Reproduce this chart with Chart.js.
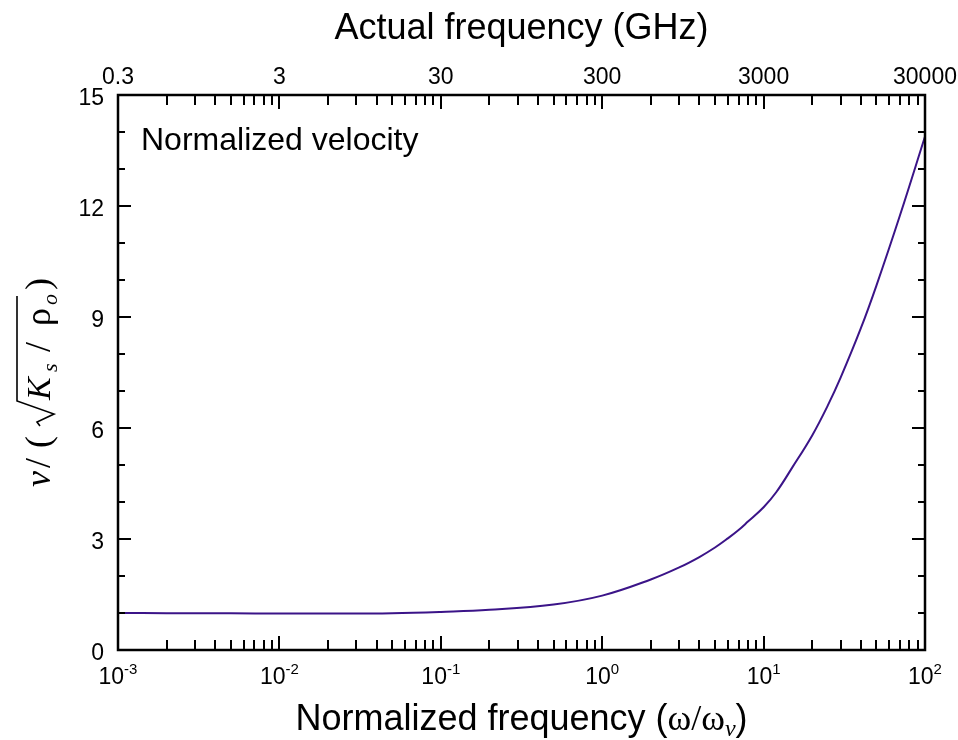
<!DOCTYPE html>
<html>
<head>
<meta charset="utf-8">
<script src="https://cdn.jsdelivr.net/npm/chart.js@4.4.0/dist/chart.umd.min.js"></script>
<style>
html, body { margin: 0; padding: 0; background: #ffffff; }
canvas { display: block; }
</style>
</head>
<body>
<canvas id="velocityChart" width="958" height="740"></canvas>
<script>
// ==================== DATOS ====================
const normFrequency = [0.001, 0.002, 0.005, 0.01, 0.02, 0.05, 0.1, 0.2, 0.5, 1, 2, 3, 4, 5, 6, 7, 8, 10, 12, 15, 20, 25, 30, 40, 50, 70, 100];
const normVelocity  = [1.00, 0.995, 0.99, 0.985, 0.985, 0.995, 1.03, 1.085, 1.23, 1.47, 1.906, 2.232, 2.513, 2.77, 3.016, 3.243, 3.47, 3.859, 4.27, 4.922, 5.80, 6.61, 7.36, 8.69, 9.85, 11.75, 13.88];

const bottomDecades = [-3, -2, -1, 0, 1, 2];
const topTickValues = [0.3, 3, 30, 300, 3000, 30000];
const topTickLabels = ['0.3', '3', '30', '300', '3000', '30000'];
const yTickValues = [0, 3, 6, 9, 12, 15];
const yTickLabels = ['0', '3', '6', '9', '12', '15'];

const LINE_COLOR = '#3b1488';
const SANS = 'Arial, "Liberation Sans", Helvetica, sans-serif';
const SERIF = '"Times New Roman", "Liberation Serif", Times, serif';

// ticks menores por década (2..9)
function logTicks(majors) {
    const list = [];
    majors.forEach((m, i) => {
        list.push({ value: m, major: true });
        if (i < majors.length - 1) {
            for (let k = 2; k <= 9; k++) list.push({ value: m * k, major: false });
        }
    });
    return list;
}

const bottomTicks = logTicks(bottomDecades.map(e => Math.pow(10, e)));
const topTicks = logTicks(topTickValues);

// ==================== DECORACIÓN DE EJES ====================
function drawYTitle(ctx) {
    ctx.save();
    ctx.translate(50, 488);
    ctx.rotate(-Math.PI / 2);
    ctx.textBaseline = 'alphabetic';
    ctx.textAlign = 'left';
    ctx.fillStyle = '#000';
    ctx.strokeStyle = '#000';

    ctx.font = 'italic 36px ' + SERIF;
    ctx.fillText('v', 1, 0);
    ctx.font = '36px ' + SERIF;
    ctx.fillText('/', 20, 0);
    ctx.fillText('(', 40, 0);

    // signo de raíz
    ctx.lineWidth = 1.6;
    ctx.beginPath();
    ctx.moveTo(62, -10);
    ctx.lineTo(66, -13);
    ctx.lineTo(74, 4);
    ctx.lineTo(87, -33);
    ctx.lineTo(192, -33);
    ctx.stroke();

    ctx.font = 'italic 34px ' + SERIF;
    ctx.fillText('K', 88, 0);
    ctx.font = 'italic 22px ' + SERIF;
    ctx.fillText('s', 116, 7);
    ctx.font = '36px ' + SERIF;
    ctx.fillText('/', 136, 0);
    ctx.fillText('\u03c1', 162, 0);
    ctx.font = 'italic 22px ' + SERIF;
    ctx.fillText('o', 183, 7);
    ctx.font = '36px ' + SERIF;
    ctx.fillText(')', 198, 0);
    ctx.restore();
}

function drawXTitle(ctx, cx, baseline) {
    const parts = [
        { text: 'Normalized frequency (', font: '36px ' + SANS, dy: 0 },
        { text: '\u03c9/\u03c9', font: '36px ' + SERIF, dy: 0 },
        { text: 'v', font: 'italic 24px ' + SERIF, dy: 6 },
        { text: ')', font: '36px ' + SANS, dy: 0 }
    ];
    let total = 0;
    parts.forEach(p => { ctx.font = p.font; p.w = ctx.measureText(p.text).width; total += p.w; });
    let x = cx - total / 2;
    ctx.textAlign = 'left';
    parts.forEach(p => { ctx.font = p.font; ctx.fillText(p.text, x, baseline + p.dy); x += p.w; });
}

const axisDecor = {
    id: 'axisDecor',
    afterDraw(chart) {
        const { ctx, chartArea: area, scales } = chart;
        const xs = scales.x, xt = scales.x2, ys = scales.y;
        ctx.save();
        ctx.strokeStyle = '#000';
        ctx.fillStyle = '#000';

        // ticks hacia dentro
        ctx.lineWidth = 2;
        ctx.beginPath();
        bottomTicks.forEach(t => {
            const px = Math.round(xs.getPixelForValue(t.value));
            const len = t.major ? 14 : 10;
            ctx.moveTo(px, area.bottom);
            ctx.lineTo(px, area.bottom - len);
        });
        topTicks.forEach(t => {
            const px = Math.round(xt.getPixelForValue(t.value));
            const len = t.major ? 14 : 10;
            ctx.moveTo(px, area.top);
            ctx.lineTo(px, area.top + len);
        });
        for (let v = 0; v <= 15; v++) {
            const py = Math.round(ys.getPixelForValue(v));
            const major = v % 3 === 0;
            ctx.moveTo(area.left, py);
            ctx.lineTo(area.left + (major ? 13 : 7), py);
            ctx.moveTo(area.right, py);
            ctx.lineTo(area.right - (major ? 13 : 7), py);
        }
        ctx.stroke();

        // marco
        ctx.lineWidth = 2.5;
        ctx.strokeRect(area.left, area.top, area.right - area.left, area.bottom - area.top);

        // etiquetas eje inferior 10^n
        ctx.textBaseline = 'alphabetic';
        bottomDecades.forEach(e => {
            const px = xs.getPixelForValue(Math.pow(10, e));
            ctx.font = '23px ' + SANS;
            const wb = ctx.measureText('10').width;
            ctx.font = '15px ' + SANS;
            const we = ctx.measureText(String(e)).width;
            const start = px - (wb + we) / 2;
            ctx.textAlign = 'left';
            ctx.font = '23px ' + SANS;
            ctx.fillText('10', start, 684);
            ctx.font = '15px ' + SANS;
            ctx.fillText(String(e), start + wb, 674);
        });

        // etiquetas eje superior
        ctx.font = '23px ' + SANS;
        ctx.textAlign = 'center';
        topTickValues.forEach((v, i) => {
            ctx.fillText(topTickLabels[i], xt.getPixelForValue(v), 84);
        });

        // etiquetas eje y
        ctx.textAlign = 'right';
        yTickValues.forEach((v, i) => {
            ctx.fillText(yTickLabels[i], 104, ys.getPixelForValue(v) + 10);
        });

        // títulos
        ctx.font = '36px ' + SANS;
        ctx.textAlign = 'center';
        ctx.fillText('Actual frequency (GHz)', (area.left + area.right) / 2, 39);
        drawXTitle(ctx, (area.left + area.right) / 2, 730);

        ctx.font = '32px ' + SANS;
        ctx.textAlign = 'left';
        ctx.fillText('Normalized velocity', 141, 150);

        drawYTitle(ctx);
        ctx.restore();
    }
};

// ==================== GRÁFICO ====================
const hiddenAxis = {
    ticks: { display: false },
    grid: { display: false },
    border: { display: false }
};

const ctx = document.getElementById('velocityChart').getContext('2d');
new Chart(ctx, {
    type: 'line',
    data: {
        datasets: [{
            data: normFrequency.map((f, i) => ({ x: f, y: normVelocity[i] })),
            borderColor: LINE_COLOR,
            borderWidth: 2,
            pointRadius: 0,
            fill: false,
            tension: 0.4
        }]
    },
    options: {
        responsive: false,
        animation: false,
        devicePixelRatio: 1,
        layout: { padding: { left: 0, right: 33, top: 0, bottom: 0 } },
        plugins: {
            legend: { display: false },
            tooltip: { enabled: false }
        },
        scales: {
            x: {
                ...hiddenAxis,
                type: 'logarithmic',
                position: 'bottom',
                min: 0.001,
                max: 100,
                afterFit: s => { s.height = 90; }
            },
            x2: {
                ...hiddenAxis,
                axis: 'x',
                type: 'logarithmic',
                position: 'top',
                min: 0.3,
                max: 30000,
                afterFit: s => { s.height = 95; }
            },
            y: {
                ...hiddenAxis,
                type: 'linear',
                min: 0,
                max: 15,
                afterFit: s => { s.width = 118; }
            }
        }
    },
    plugins: [axisDecor]
});
</script>
</body>
</html>
